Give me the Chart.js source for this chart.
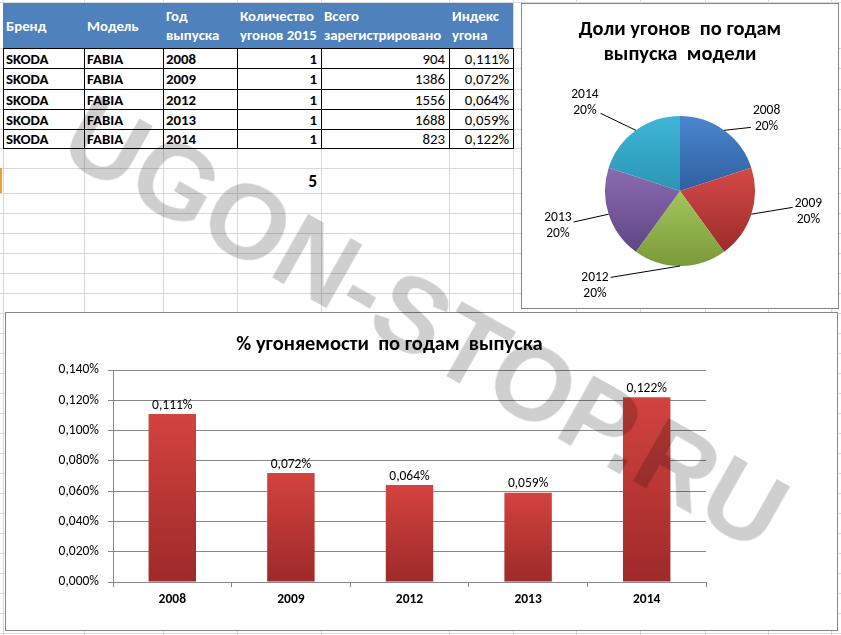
<!DOCTYPE html>
<html>
<head>
<meta charset="utf-8">
<script src="https://cdn.jsdelivr.net/npm/chart.js@4.4.1/dist/chart.umd.min.js"></script>
<style>
  html, body { margin: 0; padding: 0; background: #fff; }
  #sheet { position: relative; width: 841px; height: 635px; overflow: hidden; font-family: Carlito, Calibri, Lato, sans-serif; }
  .gl { position: absolute; background: #d9d9d9; }
  .bl { position: absolute; background: #000; }
  .cell { position: absolute; font-size: 14.8px; line-height: 20px; white-space: nowrap; color: #000; }
  .box { position: absolute; box-sizing: border-box; border: 1px solid #878787; background: #fff; }
  .box canvas { display: block; }
  #wm { position: absolute; left: 426px; top: 322px; transform: translate(-50%, -50%) rotate(29.5deg);
        font-family: "Liberation Sans", Arial, sans-serif; font-weight: bold; font-size: 106px; line-height: 1;
        color: rgba(0, 0, 0, 0.19); white-space: nowrap; pointer-events: none; z-index: 10; }
</style>
</head>
<body>
<div id="sheet">
  <div id="cells"></div>
  <div class="box" style="left:5px;top:312px;width:833px;height:319px;"><canvas id="barChart" width="831" height="317"></canvas></div>
  <div class="box" style="left:521px;top:3px;width:318px;height:306px;"><canvas id="pieChart" width="316" height="304"></canvas></div>
  <div id="wm">UGON-STOP.RU</div>
</div>
<script>
// table data
const brands = ['SKODA', 'SKODA', 'SKODA', 'SKODA', 'SKODA'];
const models = ['FABIA', 'FABIA', 'FABIA', 'FABIA', 'FABIA'];
const years = ['2008', '2009', '2012', '2013', '2014'];
const thefts2015 = [1, 1, 1, 1, 1];
const registered = [904, 1386, 1556, 1688, 823];
const theftIndex = [0.111, 0.072, 0.064, 0.059, 0.122]; // percent
const headers = [['Бренд'], ['Модель'], ['Год', 'выпуска'], ['Количество', 'угонов 2015'], ['Всего', 'зарегистрировано'], ['Индекс', 'угона']];
const yTickLabels = ['0,000%', '0,020%', '0,040%', '0,060%', '0,080%', '0,100%', '0,120%', '0,140%'];

const FONT = 'Carlito, Calibri, Lato, sans-serif';
Chart.defaults.font.family = FONT;

// sheet layout
const colX = [3, 84, 163, 237, 321, 449, 513, 576, 640, 705, 768, 831];
const rowY = [2, 48, 68, 89, 109, 129, 148, 168, 193];
for (let y = 213; y < 640; y += 20) rowY.push(y);

const fmtPct = v => v.toFixed(3).replace('.', ',') + '%';

function div(cls, style, text) {
    const d = document.createElement('div');
    d.className = cls;
    Object.assign(d.style, style);
    if (text !== undefined) d.textContent = text;
    document.getElementById('cells').appendChild(d);
    return d;
}

function buildSheet() {
    colX.forEach(x => div('gl', { left: x + 'px', top: '0px', width: '1px', height: '635px' }));
    rowY.forEach(y => div('gl', { left: '0px', top: y + 'px', width: '841px', height: '1px' }));
    div('', { position: 'absolute', left: '0px', top: '168px', width: '2px', height: '25px', background: '#f0a030' });

    // header
    div('', { position: 'absolute', left: '3px', top: '3px', width: '510px', height: '45px', background: '#4f81bd' });
    headers.forEach((lines, c) => {
        const d = div('cell', { left: (colX[c] + 3) + 'px', color: '#fff', fontWeight: 'bold', lineHeight: '19px',
            top: (lines.length === 1 ? 17 : 7) + 'px' });
        d.innerHTML = lines.join('<br>');
    });

    // rows
    const rows = years.map((y, i) => [brands[i], models[i], y, thefts2015[i], registered[i], fmtPct(theftIndex[i])]);
    rows.forEach((row, r) => {
        const top = rowY[r + 1];
        const h = rowY[r + 2] - top;
        row.forEach((val, c) => {
            const st = { top: (top + 1) + 'px', lineHeight: h + 'px', fontWeight: c <= 3 ? 'bold' : 'normal' };
            if (c <= 2) st.left = (colX[c] + 3) + 'px';
            else st.right = (841 - colX[c + 1] + 4) + 'px';
            div('cell', st, String(val));
        });
    });

    // borders
    for (let r = 1; r <= 6; r++) div('bl', { left: '3px', top: rowY[r] + 'px', width: '511px', height: '1px' });
    for (let c = 0; c <= 6; c++) div('bl', { left: colX[c] + 'px', top: '48px', width: '1px', height: '101px' });

    const total = thefts2015.reduce((a, b) => a + b, 0);
    div('cell', { right: (841 - 317) + 'px', top: '169px', lineHeight: '25px', fontSize: '17.5px', fontWeight: 'bold' }, String(total));
}
buildSheet();

// bar chart
function barGradient(ctx) {
    const chart = ctx.chart;
    if (!chart.chartArea || ctx.dataIndex === undefined) return '#c0504d';
    const y = chart.scales.y;
    const top = y.getPixelForValue(ctx.raw);
    const bottom = y.getPixelForValue(0);
    const g = chart.ctx.createLinearGradient(0, top, 0, bottom);
    g.addColorStop(0, '#d3433f');
    g.addColorStop(1, '#9d2a29');
    return g;
}

const barLabels = {
    id: 'barLabels',
    afterDatasetsDraw(chart) {
        const ctx = chart.ctx;
        ctx.save();
        ctx.font = '13.5px ' + FONT;
        ctx.fillStyle = '#000';
        ctx.textAlign = 'center';
        ctx.textBaseline = 'bottom';
        chart.getDatasetMeta(0).data.forEach((bar, i) => {
            ctx.fillText(fmtPct(theftIndex[i]), bar.x, bar.y - 2);
        });
        ctx.restore();
    }
};

new Chart(document.getElementById('barChart'), {
    type: 'bar',
    data: {
        labels: years,
        datasets: [{ data: theftIndex, backgroundColor: barGradient, barPercentage: 0.4, categoryPercentage: 1 }]
    },
    options: {
        responsive: false,
        animation: false,
        layout: { padding: { left: 0, right: 64, top: 0, bottom: 0 } },
        plugins: {
            legend: { display: false },
            tooltip: { enabled: false },
            title: {
                display: true,
                text: '% угоняемости  по годам  выпуска',
                color: '#000',
                font: { size: 20.5, weight: 'bold', lineHeight: 1.2 },
                padding: { top: 19.7, bottom: 12.7 }
            }
        },
        scales: {
            x: {
                grid: { display: true, drawOnChartArea: false, drawTicks: true, tickLength: 5, color: '#878787', offset: true },
                border: { color: '#878787' },
                ticks: { color: '#000', font: { size: 13.5, weight: 'bold' }, padding: 5 },
                afterFit(s) { s.height = 48; }
            },
            y: {
                min: 0,
                max: 0.14,
                ticks: { stepSize: 0.02, color: '#000', font: { size: 13.5 }, padding: 9, callback: (v, i) => yTickLabels[i] },
                grid: { color: '#878787', tickLength: 5 },
                border: { color: '#878787' },
                afterFit(s) { s.width = 107; }
            },
            // empty right-hand spacer so the plot area ends where the Excel plot does
            spacer: {
                type: 'linear',
                position: 'right',
                grid: { display: false, drawTicks: false },
                border: { display: false },
                ticks: { display: false },
                afterFit(s) { s.width = 67; }
            }
        }
    },
    plugins: [barLabels]
});

// pie chart
const pieLight = ['#4a86cf', '#d34a47', '#a2c65a', '#8a6bb2', '#3fb6d6'];
const pieDark = ['#2f609e', '#9c2c2a', '#7a9a3a', '#5f4684', '#2b95b5'];
const PIE_R = 75;

function sliceGradient(ctx) {
    const chart = ctx.chart;
    const i = ctx.dataIndex;
    if (!chart.chartArea || i === undefined) return pieLight[i || 0];
    const area = chart.chartArea;
    const cx = (area.left + area.right) / 2, cy = (area.top + area.bottom) / 2;
    const total = thefts2015.reduce((a, b) => a + b, 0);
    const before = thefts2015.slice(0, i).reduce((a, b) => a + b, 0);
    const a0 = -Math.PI / 2 + before / total * 2 * Math.PI;
    const a1 = a0 + thefts2015[i] / total * 2 * Math.PI;
    const ys = [cy, cy + Math.sin(a0) * PIE_R, cy + Math.sin(a1) * PIE_R];
    for (let k = -1; k <= 4; k++) {
        const a = k * Math.PI / 2;
        if (a > a0 && a < a1) ys.push(cy + Math.sin(a) * PIE_R);
    }
    const g = chart.ctx.createLinearGradient(0, Math.min(...ys), 0, Math.max(...ys));
    g.addColorStop(0, pieLight[i]);
    g.addColorStop(1, pieDark[i]);
    return g;
}

// where each outside label sits: angle (deg) and distance from pie centre, leader end offset
const pieLabelLayout = [
    { deg: -40, dist: 113, dy: 9 },
    { deg: 9, dist: 130, dy: -4 },
    { deg: 132, dist: 127, dy: -8 },
    { deg: 164, dist: 127, dy: -4 },
    { deg: 223, dist: 130, dy: 11 }
];

const pieLabels = {
    id: 'pieLabels',
    afterDatasetsDraw(chart) {
        const ctx = chart.ctx;
        const total = thefts2015.reduce((a, b) => a + b, 0);
        ctx.save();
        ctx.font = '13.5px ' + FONT;
        ctx.fillStyle = '#000';
        ctx.strokeStyle = '#000';
        ctx.lineWidth = 1;
        ctx.textAlign = 'center';
        ctx.textBaseline = 'middle';
        chart.getDatasetMeta(0).data.forEach((arc, i) => {
            const p = arc.getProps(['x', 'y', 'startAngle', 'endAngle', 'outerRadius'], true);
            const mid = (p.startAngle + p.endAngle) / 2;
            const L = pieLabelLayout[i];
            const a = L.deg * Math.PI / 180;
            const tx = p.x + Math.cos(a) * L.dist;
            const ty = p.y + Math.sin(a) * L.dist;
            const lines = [years[i], Math.round(thefts2015[i] / total * 100) + '%'];
            const halfW = Math.max(...lines.map(t => ctx.measureText(t).width)) / 2;
            const side = Math.cos(a) >= 0 ? -1 : 1;
            ctx.beginPath();
            ctx.moveTo(p.x + Math.cos(mid) * p.outerRadius, p.y + Math.sin(mid) * p.outerRadius);
            ctx.lineTo(tx + side * (halfW + 2), ty + L.dy);
            ctx.stroke();
            ctx.fillText(lines[0], tx, ty - 8);
            ctx.fillText(lines[1], tx, ty + 8);
        });
        ctx.restore();
    }
};

new Chart(document.getElementById('pieChart'), {
    type: 'pie',
    data: {
        labels: years,
        datasets: [{ data: thefts2015, backgroundColor: sliceGradient, borderWidth: 0, hoverOffset: 0, radius: PIE_R }]
    },
    options: {
        responsive: false,
        animation: false,
        layout: { padding: 0 },
        plugins: {
            legend: { display: false },
            tooltip: { enabled: false },
            title: {
                display: true,
                text: ['Доли угонов  по годам', 'выпуска  модели'],
                color: '#000',
                font: { size: 20.5, weight: 'bold', lineHeight: 1.22 },
                padding: { top: 13.5, bottom: 6.5 }
            }
        }
    },
    plugins: [pieLabels]
});
</script>
</body>
</html>
